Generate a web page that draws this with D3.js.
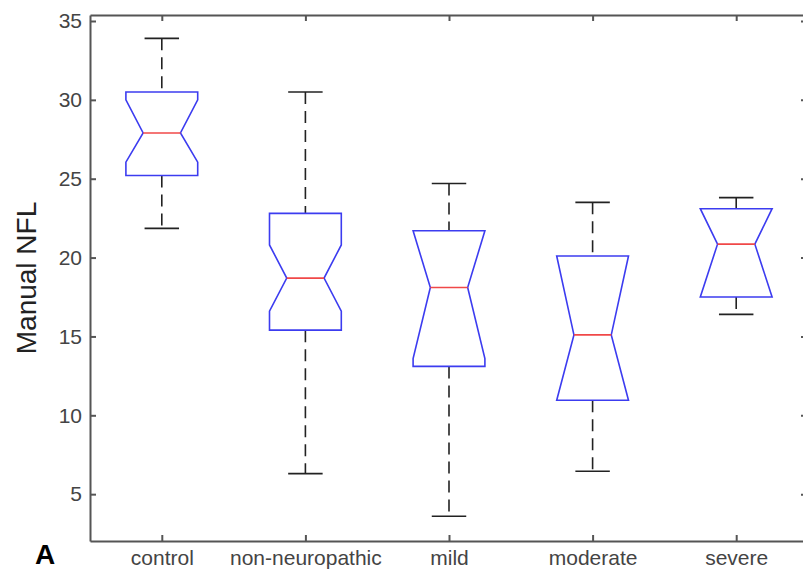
<!DOCTYPE html>
<html>
<head>
<meta charset="utf-8">
<script src="https://cdn.jsdelivr.net/npm/d3@7"></script>
<style>
  body { margin: 0; background: #fff; }
  svg { display: block; font-family: "Liberation Sans", Arial, sans-serif; }
  .axis path, .axis line { stroke: #555; }
  .axis text { fill: #444; }
</style>
</head>
<body>
<svg id="chart"></svg>
<script>
// group names, in plotting order
var categories = ["control", "non-neuropathic", "mild", "moderate", "severe"];

// box statistics (Manual NFL)
var whiskerHigh = [33.9, 30.5, 24.7, 23.5, 23.8];
var q3          = [30.5, 22.8, 21.7, 20.1, 23.1];
var medians     = [27.9, 18.7, 18.1, 15.1, 20.85];
var q1          = [25.2, 15.4, 13.1, 10.95, 17.5];
var whiskerLow  = [21.85, 6.3, 3.6, 6.45, 16.4];
var notchHigh   = [30.0, 20.8, 22.5, 20.6, 23.6];
var notchLow    = [26.05, 16.6, 13.6, 10.2, 16.9];

var yTicks = [5, 10, 15, 20, 25, 30, 35];

var w = 803, h = 570;
var margin = {left: 90, top: 15, right: -5, bottom: 29};

var svg = d3.select("#chart")
    .attr("width", w)
    .attr("height", h);

var x = d3.scaleLinear()
    .domain([0.5, 5.5])
    .range([margin.left, w - margin.right]);

var y = d3.scaleLinear()
    .domain([2.03, 35.38])
    .range([h - margin.bottom, margin.top]);

var boxHalf = 0.25,    // half box width, x units
    notchHalf = 0.13,
    capHalf = 0.12;

var groups = categories.map(function(c, i) {
    return {
        name: c, pos: i + 1,
        lo: whiskerLow[i], q1: q1[i], med: medians[i], q3: q3[i], hi: whiskerHigh[i],
        nlo: Math.max(notchLow[i], q1[i]), nhi: Math.min(notchHigh[i], q3[i])
    };
});

// whiskers (dashed) and caps
var g = svg.selectAll("g.box")
    .data(groups)
    .enter().append("g")
    .attr("class", "box");

g.append("line")
    .attr("x1", function(d) { return x(d.pos); })
    .attr("x2", function(d) { return x(d.pos); })
    .attr("y1", function(d) { return y(d.hi); })
    .attr("y2", function(d) { return y(d.q3); })
    .attr("stroke", "#222").attr("stroke-width", 1.6)
    .attr("stroke-dasharray", "12,7");

g.append("line")
    .attr("x1", function(d) { return x(d.pos); })
    .attr("x2", function(d) { return x(d.pos); })
    .attr("y1", function(d) { return y(d.q1); })
    .attr("y2", function(d) { return y(d.lo); })
    .attr("stroke", "#222").attr("stroke-width", 1.6)
    .attr("stroke-dasharray", "12,7");

["hi", "lo"].forEach(function(k) {
    g.append("line")
        .attr("x1", function(d) { return x(d.pos - capHalf); })
        .attr("x2", function(d) { return x(d.pos + capHalf); })
        .attr("y1", function(d) { return y(d[k]); })
        .attr("y2", function(d) { return y(d[k]); })
        .attr("stroke", "#222").attr("stroke-width", 1.6);
});

// notched box outline
g.append("path")
    .attr("d", function(d) {
        var p = d3.path();
        p.moveTo(x(d.pos - boxHalf), y(d.q3));
        p.lineTo(x(d.pos + boxHalf), y(d.q3));
        p.lineTo(x(d.pos + boxHalf), y(d.nhi));
        p.lineTo(x(d.pos + notchHalf), y(d.med));
        p.lineTo(x(d.pos + boxHalf), y(d.nlo));
        p.lineTo(x(d.pos + boxHalf), y(d.q1));
        p.lineTo(x(d.pos - boxHalf), y(d.q1));
        p.lineTo(x(d.pos - boxHalf), y(d.nlo));
        p.lineTo(x(d.pos - notchHalf), y(d.med));
        p.lineTo(x(d.pos - boxHalf), y(d.nhi));
        p.closePath();
        return p.toString();
    })
    .attr("fill", "none")
    .attr("stroke", "#3c3cf0")
    .attr("stroke-width", 1.6);

// median
g.append("line")
    .attr("x1", function(d) { return x(d.pos - notchHalf); })
    .attr("x2", function(d) { return x(d.pos + notchHalf); })
    .attr("y1", function(d) { return y(d.med); })
    .attr("y2", function(d) { return y(d.med); })
    .attr("stroke", "#f04848").attr("stroke-width", 1.6);

// axes, ticks pointing inward like MATLAB
svg.append("g")
    .attr("class", "axis")
    .attr("transform", "translate(" + margin.left + ",0)")
    .call(d3.axisLeft(y).tickValues(yTicks).tickSizeInner(-6).tickSizeOuter(0).tickPadding(8))
    .call(function(a) {
        a.selectAll("path, line").attr("stroke-width", 2);
        a.selectAll("text").style("font-size", "21px");
    });

svg.append("g")
    .attr("class", "axis")
    .attr("transform", "translate(" + x(5.5) + ",0)")
    .call(d3.axisRight(y).tickValues(yTicks).tickSizeInner(-7).tickSizeOuter(0).tickFormat(""))
    .call(function(a) { a.selectAll("path, line").attr("stroke-width", 2); });

svg.append("g")
    .attr("class", "axis")
    .attr("transform", "translate(0," + (h - margin.bottom) + ")")
    .call(d3.axisBottom(x).tickValues([1, 2, 3, 4, 5])
        .tickFormat(function(d) { return categories[d - 1]; })
        .tickSizeInner(-6).tickSizeOuter(0).tickPadding(9))
    .call(function(a) {
        a.selectAll("path, line").attr("stroke-width", 2);
        a.selectAll("text").style("font-size", "21px");
    });

svg.append("g")
    .attr("class", "axis")
    .attr("transform", "translate(0," + margin.top + ")")
    .call(d3.axisTop(x).tickValues([1, 2, 3, 4, 5]).tickSizeInner(-6).tickSizeOuter(0).tickFormat(""))
    .call(function(a) { a.selectAll("path, line").attr("stroke-width", 2); });

// y label
svg.append("text")
    .attr("transform", "translate(36," + 278 + ") rotate(-90)")
    .attr("text-anchor", "middle")
    .style("font-size", "28px")
    .attr("fill", "#222")
    .text("Manual  NFL");

// panel letter
svg.append("text")
    .attr("x", 35)
    .attr("y", 564)
    .style("font-size", "28px")
    .style("font-weight", "bold")
    .attr("fill", "#000")
    .text("A");
</script>
</body>
</html>
